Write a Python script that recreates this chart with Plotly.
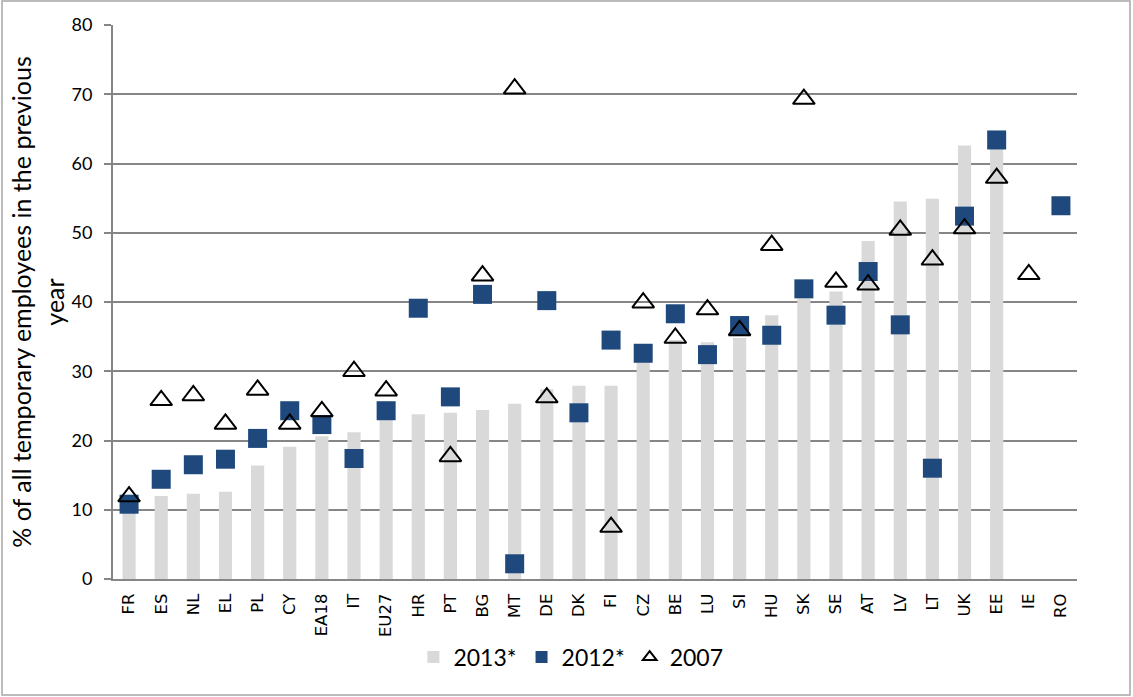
import plotly.graph_objects as go

categories = ["FR", "ES", "NL", "EL", "PL", "CY", "EA18", "IT", "EU27", "HR", "PT", "BG",
              "MT", "DE", "DK", "FI", "CZ", "BE", "LU", "SI", "HU", "SK", "SE", "AT",
              "LV", "LT", "UK", "EE", "IE", "RO"]

v2013 = [10.2, 12.0, 12.3, 12.6, 16.4, 19.1, 20.6, 21.2, 23.0, 23.8, 24.0, 24.4,
         25.3, 27.4, 27.9, 27.9, 32.0, 34.5, 34.2, 34.8, 38.1, 40.5, 41.5, 48.8,
         54.5, 54.9, 62.6, 63.0, None, None]

v2012 = [10.8, 14.4, 16.5, 17.3, 20.3, 24.3, 22.3, 17.4, 24.3, 39.1, 26.3, 41.1,
         2.2, 40.2, 24.0, 34.5, 32.6, 38.3, 32.4, 36.6, 35.2, 41.9, 38.1, 44.4,
         36.7, 16.0, 52.4, 63.4, None, 53.9]

v2007 = [11.9, 25.8, 26.5, 22.4, 27.3, 22.4, 24.2, 30.0, 27.2, None, 17.7, 43.8,
         70.8, 26.2, None, 7.5, 39.9, 34.8, 38.9, 35.9, 48.2, 69.3, 42.9, 42.5,
         50.4, 46.1, 50.6, 57.9, 44.0, None]

y_title = "% of all temporary employees in the previous<br>year"

fig = go.Figure()
fig.add_trace(go.Bar(x=categories, y=v2013, name="2013*",
                     marker=dict(color="#d9d9d9", line=dict(width=0)), width=0.41))
fig.add_trace(go.Scatter(x=categories, y=v2012, name="2012*", mode="markers",
                         marker=dict(symbol="square", size=19, color="#1f497d",
                                     line=dict(width=0))))
fig.add_trace(go.Scatter(x=categories, y=v2007, name="2007", mode="markers",
                         marker=dict(symbol="triangle-up-open", size=19, color="black",
                                     line=dict(width=2, color="black"))))

W, H = 1133, 697
l, r, t, b = 113, 56, 25, 118
pw, ph = W - l - r, H - t - b

fig.update_layout(
    width=W, height=H,
    margin=dict(l=l, r=r, t=t, b=b, autoexpand=False),
    paper_bgcolor="white", plot_bgcolor="white",
    showlegend=True,
    legend=dict(orientation="h", x=0.475, xanchor="center", y=-0.141, yanchor="middle",
                font=dict(family="Lato", size=23, color="black"),
                itemsizing="constant", traceorder="normal", tracegroupgap=0),
    shapes=[dict(type="rect", xref="paper", yref="paper",
                 x0=-(l - 2) / pw, x1=(W - 3 - l) / pw,
                 y0=-(b - 2) / ph, y1=(ph + t - 1) / ph,
                 line=dict(color="#a6a6a6", width=1.5), fillcolor="rgba(0,0,0,0)", layer="below")],
)

fig.update_xaxes(
    type="category", tickangle=-90,
    tickfont=dict(family="DejaVu Sans", size=16.5, color="black"),
    showline=True, linecolor="#868686", linewidth=2,
    showgrid=False, ticks="", range=[-0.5, len(categories) - 0.5],
    automargin=False, ticklabelstandoff=6,
)
fig.update_yaxes(
    range=[0, 80], dtick=10,
    tickfont=dict(family="Lato", size=18, color="black"),
    showline=True, linecolor="#868686", linewidth=2,
    showgrid=True, gridcolor="#868686", gridwidth=1.8,
    ticks="outside", ticklen=7, tickcolor="#868686", tickwidth=2,
    zeroline=False, automargin=False, ticklabelstandoff=8,
    title=dict(text=y_title, font=dict(family="Lato", size=25, color="black"), standoff=0),
)

fig.write_html("out.html", config={"displayModeBar": False},
               post_script="document.body.style.margin='0px';document.body.style.overflow='hidden';")
